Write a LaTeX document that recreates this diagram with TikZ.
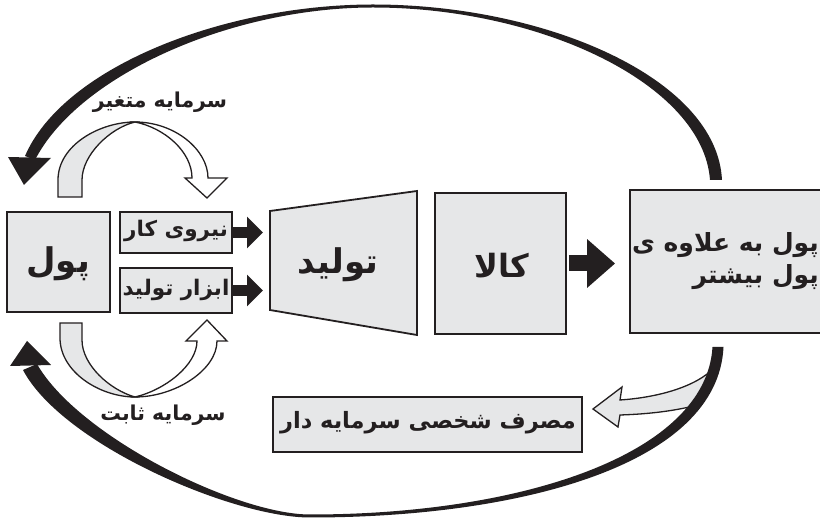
\documentclass[tikz,border=0pt]{standalone}
\usepackage{fontspec}
\newfontfamily\fa[Script=Arabic]{DejaVu Sans}
\TeXXeTstate=1
\usetikzlibrary{arrows.meta,calc}
\definecolor{ink}{HTML}{231F20}
\definecolor{boxgray}{HTML}{E6E7E8}
\begin{document}
\begin{tikzpicture}[x=1pt,y=-1pt,
  box/.style={draw=ink, line width=1.8pt, fill=boxgray, inner sep=0pt},
  txt/.style={font=\fa\bfseries, text=ink, inner sep=0pt},
  hollow/.style={draw=ink, line width=1.3pt},
  smallarrow/.style={draw=ink, line width=11pt, -{Triangle[length=16pt,width=31pt]}, shorten >=7pt},
  bigarrow/.style={draw=ink, line width=16pt, -{Triangle[length=28pt,width=47pt]}, shorten <=2pt, shorten >=14pt}]
\useasboundingbox (0,0) rectangle (820,518);

% boxes
\node[box, minimum width=103pt, minimum height=100pt] (pool) at (58.5,262) {};
\node[txt, font=\fa\bfseries\fontsize{34}{38}\selectfont] at (58,264) {\beginR پول\endR};
\node[box, minimum width=112pt, minimum height=41pt] (niru) at (176,232.5) {};
\node[txt, font=\fa\bfseries\fontsize{21.5}{24}\selectfont] at (176,231) {\beginR نیروی کار\endR};
\node[box, minimum width=112pt, minimum height=45pt] (abzar) at (176,290.5) {};
\node[txt, font=\fa\bfseries\fontsize{21.5}{24}\selectfont] at (176,290) {\beginR ابزار تولید\endR};

% trapezoid
\coordinate (tl) at (270,211);
\coordinate (tr) at (417,191);
\coordinate (br) at (417,335);
\coordinate (bl) at (270,310);
\filldraw[fill=boxgray, draw=ink, line width=1.8pt] (tl) -- (tr) -- (br) -- (bl) -- cycle;
\node[txt, font=\fa\bfseries\fontsize{34}{38}\selectfont] (prod) at (338,265) {\beginR تولید\endR};

\node[box, minimum width=131pt, minimum height=141pt] (kala) at (500.5,263.5) {};
\node[txt, font=\fa\bfseries\fontsize{32}{36}\selectfont] at (502,266) {\beginR کالا\endR};

\node[box, minimum width=200pt, minimum height=143pt] (big) at (730,261.5) {};
\node[txt, anchor=east, align=right, font=\fa\bfseries\fontsize{25}{32}\selectfont] at (819,261) {\beginR پول به علاوه ی\endR\\\beginR پول بیشتر\endR};

\node[box, minimum width=309pt, minimum height=55pt] (masraf) at (427.5,424.5) {};
\node[txt, font=\fa\bfseries\fontsize{22.5}{26}\selectfont] at (428,423) {\beginR مصرف شخصی سرمایه دار\endR};

% straight block arrows
\draw[smallarrow] (niru.east) -- (niru.east -| tl);
\draw[smallarrow] (abzar.east) -- (abzar.east -| tl);
\draw[bigarrow] (kala.east) -- (kala.east -| big.west);

% small twisted arrows (top)
\filldraw[fill=boxgray, hollow] (58,197) -- (58,180) .. controls (58,145) and (100,122) .. (135,122)
  .. controls (110,128) and (82,155) .. (82,180) -- (82,197) -- cycle;
\filldraw[fill=white, hollow] (135,122) .. controls (175,122) and (208,150) .. (208,178) -- (227,178) -- (207,198)
  -- (185,178) -- (192,178) .. controls (192,152) and (165,128) .. (135,122) -- cycle;
\node[txt, font=\fa\bfseries\fontsize{20.5}{24}\selectfont] at (160,102) {\beginR سرمایه متغیر\endR};

% small twisted arrows (bottom)
\filldraw[fill=boxgray, hollow] (60,323) -- (60,338) .. controls (60,372) and (100,397) .. (135,397)
  .. controls (110,390) and (82,365) .. (82,340) -- (82,323) -- cycle;
\filldraw[fill=white, hollow] (135,397) .. controls (175,397) and (217,370) .. (217,341) -- (227,341) -- (207,320)
  -- (186,341) -- (197,341) .. controls (197,365) and (165,390) .. (135,397) -- cycle;
\node[txt, font=\fa\bfseries\fontsize{20.5}{24}\selectfont] at (163,415) {\beginR سرمایه ثابت\endR};

% hollow arrow to consumption
\filldraw[fill=boxgray, hollow] (593,409) -- (622,387) -- (620,400) .. controls (650,398) and (690,390) .. (712,370)
  -- (702,404) .. controls (675,411) and (650,414) .. (620,415) -- (618,427) -- cycle;

% big top arc
\fill[ink] (722,180) .. controls (717,78) and (545,4.5) .. (373,4.5) .. controls (226,4.5) and (64,66) .. (25,156)
  -- (35,160) .. controls (78,76) and (230,7.5) .. (373,7.5) .. controls (540,7.5) and (703,84) .. (710,180) -- cycle;
\fill[ink] (8,157) -- (51,158) -- (24,185) -- cycle;

% big bottom arc
\fill[ink] (723.5,347) .. controls (718,465) and (520,517.5) .. (310,517.5) .. controls (232,517.5) and (62,444) .. (23,370)
  -- (37,364) .. controls (78,436) and (236,514.5) .. (310,514.5) .. controls (520,514.5) and (706,455) .. (712.5,347) -- cycle;
\fill[ink] (10,366) -- (51,365) -- (27,341) -- cycle;
\end{tikzpicture}
\end{document}
